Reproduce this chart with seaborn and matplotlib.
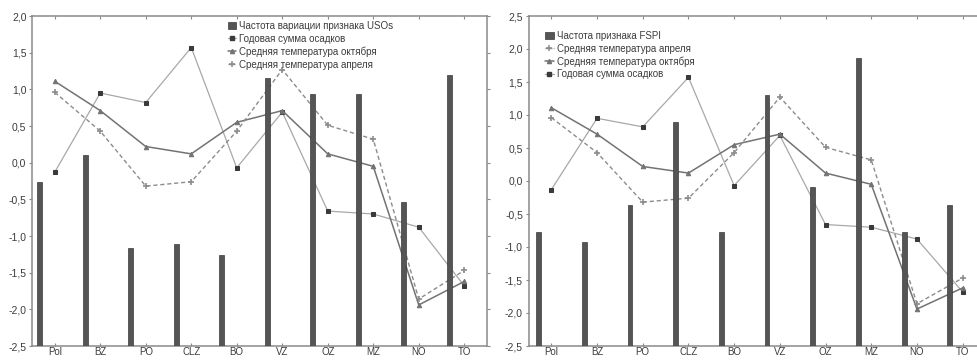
import numpy as np
import pandas as pd
import matplotlib
matplotlib.use("Agg")
import matplotlib.pyplot as plt
from matplotlib.ticker import FuncFormatter
from matplotlib.patches import Patch
from matplotlib.lines import Line2D
import seaborn as sns

# ---- data ----
regions = ["Pol", "BZ", "PO", "CLZ", "BO", "VZ", "OZ", "MZ", "NO", "TO"]

precip = [-0.13, 0.95, 0.82, 1.57, -0.07, 0.69, -0.66, -0.70, -0.88, -1.68]
temp_oct = [1.11, 0.71, 0.22, 0.12, 0.55, 0.71, 0.12, -0.05, -1.94, -1.62]
temp_apr = [0.96, 0.43, -0.32, -0.26, 0.43, 1.27, 0.51, 0.32, -1.86, -1.47]

freq_usos = [-0.27, 0.10, -1.17, -1.11, -1.26, 1.15, 0.93, 0.93, -0.54, 1.20]
freq_fspi = [-0.78, -0.92, -0.36, 0.89, -0.78, 1.31, -0.09, 1.86, -0.78, -0.36]

left_yticks = [-2.5, -2.0, -1.5, -1.0, -0.5, 0.0, 0.5, 1.0, 1.5, 2.0]
right_yticks = [-2.5, -2.0, -1.5, -1.0, -0.5, 0.0, 0.5, 1.0, 1.5, 2.0, 2.5]

# ---- style ----
sns.set_theme(style="white")
plt.rcParams["font.family"] = ["Liberation Sans", "DejaVu Sans"]

BAR_C = "#555555"
PREC_LINE = "#a8a8a8"
PREC_MARK = "#3a3a3a"
OCT_C = "#737373"
APR_C = "#8c8c8c"
SPINE_C = "#8a8a8a"
TEXT_C = "#3c3c3c"

fig = plt.figure(figsize=(9.77, 3.60), dpi=100)
ax_l = fig.add_axes([32 / 977, 14 / 360, 455 / 977, 330 / 360])
ax_r = fig.add_axes([528.5 / 977, 14 / 360, 457 / 977, 330 / 360])

x = np.arange(len(regions))
df = pd.DataFrame({"x": x, "precip": precip, "oct": temp_oct, "apr": temp_apr})


def draw_lines(ax):
    sns.lineplot(data=df, x="x", y="precip", ax=ax, color=PREC_LINE, lw=0.9,
                 marker="s", markersize=3.2, markerfacecolor=PREC_MARK,
                 markeredgecolor=PREC_MARK, sort=False, zorder=2)
    sns.lineplot(data=df, x="x", y="oct", ax=ax, color=OCT_C, lw=1.1,
                 marker="^", markersize=3.2, markerfacecolor=OCT_C,
                 markeredgecolor=OCT_C, sort=False, zorder=2)
    sns.lineplot(data=df, x="x", y="apr", ax=ax, color=APR_C, lw=1.0,
                 linestyle=(0, (3, 2)), marker="+", markersize=4.5,
                 markeredgewidth=1.2, markeredgecolor=APR_C,
                 sort=False, zorder=2)


def draw_bars(ax, vals, base, offset):
    vals = np.asarray(vals)
    ax.bar(x + offset, vals - base, bottom=base, width=0.105,
           color=BAR_C, edgecolor="#3a3a3a", linewidth=0.5, zorder=3)


def style_axes(ax, ymin, ymax, yticks):
    ax.set_xlim(-0.5, len(regions) - 0.5)
    ax.set_ylim(ymin, ymax)
    ax.set_xticks(x)
    ax.set_xticklabels(regions)
    ax.set_yticks(yticks)
    ax.yaxis.set_major_formatter(
        FuncFormatter(lambda v, p: f"{v:.1f}".replace(".", ",")))
    ax.set_xlabel("")
    ax.set_ylabel("")
    for s in ax.spines.values():
        s.set_visible(True)
        s.set_color(SPINE_C)
        s.set_linewidth(1.1)
    ax.tick_params(axis="y", which="both", left=True, right=True,
                   direction="out", length=2, width=0.8, color=SPINE_C,
                   labelsize=7.5, labelcolor=TEXT_C, pad=2)
    ax.tick_params(axis="y", right=True, labelright=False)
    ax.tick_params(axis="x", bottom=True, top=True, direction="in",
                   length=2, width=0.8, color=SPINE_C,
                   labelsize=7, labelcolor=TEXT_C, pad=0.5)
    ax.grid(False)


def make_legend(ax, items, loc, anchor):
    handles, labels = [], []
    for kind, lab in items:
        if kind == "bar":
            handles.append(Patch(facecolor=BAR_C, edgecolor="#3a3a3a", lw=0.5))
        elif kind == "precip":
            handles.append(Line2D([], [], color=PREC_LINE, lw=0.9, marker="s",
                                  markersize=3, markerfacecolor=PREC_MARK,
                                  markeredgecolor=PREC_MARK))
        elif kind == "oct":
            handles.append(Line2D([], [], color=OCT_C, lw=1.1, marker="^",
                                  markersize=3, markerfacecolor=OCT_C,
                                  markeredgecolor=OCT_C))
        else:
            handles.append(Line2D([], [], color=APR_C, lw=1.0,
                                  linestyle=(0, (2, 1)), marker="+",
                                  markersize=4.5, markeredgewidth=1.1,
                                  markeredgecolor=APR_C))
        labels.append(lab)
    leg = ax.legend(handles, labels, loc=loc, bbox_to_anchor=anchor,
                    frameon=False, fontsize=7, handlelength=0.9,
                    handleheight=0.8, handletextpad=0.3, labelspacing=0.28,
                    borderaxespad=0, borderpad=0)
    for t in leg.get_texts():
        t.set_color(TEXT_C)
    return leg


# left panel
draw_lines(ax_l)
draw_bars(ax_l, freq_usos, -2.5, -0.33)
style_axes(ax_l, -2.5, 2.0, left_yticks)
make_legend(ax_l, [("bar", "Частота вариации признака USOs"),
                   ("precip", "Годовая сумма осадков"),
                   ("oct", "Средняя температура октября"),
                   ("apr", "Средняя температура апреля")],
            "upper left", (0.43, 0.985))

# right panel
draw_lines(ax_r)
draw_bars(ax_r, freq_fspi, -2.5, -0.28)
style_axes(ax_r, -2.5, 2.5, right_yticks)
make_legend(ax_r, [("bar", "Частота признака FSPI"),
                   ("apr", "Средняя температура апреля"),
                   ("oct", "Средняя температура октября"),
                   ("precip", "Годовая сумма осадков")],
            "upper left", (0.036, 0.955))

fig.savefig("out.png", dpi=100, facecolor="white")
